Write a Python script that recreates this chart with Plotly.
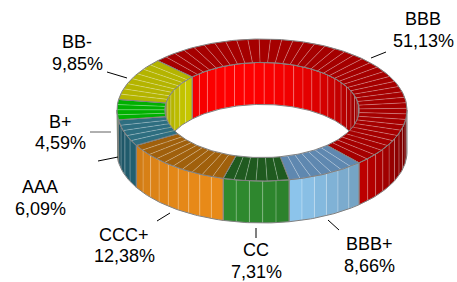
import numpy as np
import plotly.graph_objects as go

# ---------------- data ----------------
categories = ['BBB', 'BBB+', 'CC', 'CCC+', 'AAA', 'B+', 'BB-']
shares = [51.13, 8.66, 7.31, 12.38, 6.09, 4.59, 9.85]

# ---------------- style ----------------
top_colors = ['#A50000', '#5F88B0', '#1F5A1F', '#A0600C', '#2E6E80', '#00B000', '#B4B400']
side_colors = ['#FF0000', '#98D4FF', '#2F8A2F', '#E88A18', '#266C80', '#00C000', '#D8D800']
inner_colors = ['#FF0000', '#98D4FF', '#2F8A2F', '#E88A18', '#266C80', '#00C800', '#D6D600']

# label placement (centre x, name y, percent y) and leader lines
label_pos = {
    'BBB': (423, 18.5, 40.5),
    'BBB+': (369, 243.5, 265.5),
    'CC': (256, 250, 271.5),
    'CCC+': (124, 234.5, 256),
    'AAA': (40, 186.5, 208.5),
    'B+': (60, 122, 143),
    'BB-': (77, 42, 63.5),
}
leaders = {
    'BBB': (371, 58, 386, 52),
    'BBB+': (328, 220, 339, 230),
    'CC': (256, 228, 256, 238),
    'CCC+': (157, 221, 170, 213),
    'AAA': (98, 161, 118, 157),
    'B+': (90, 132, 111, 132),
    'BB-': (107, 72, 127, 78),
}

W, H = 457, 282
CX, CY = 262, 110
RX, RY = 145, 71
HOLE = 0.67
DEPTH = 42
START = 136.0
OUTLINE = '#808080'
STRIPE = 'rgba(255,255,255,0.28)'


def shade(hexc, f):
    h = hexc.lstrip('#')
    r, g, b = (int(h[i:i + 2], 16) for i in (0, 2, 4))
    f = max(0.0, f)
    return 'rgb(%d,%d,%d)' % tuple(min(255, int(round(c * f))) for c in (r, g, b))


def outer_f(theta):
    f = 0.49 + 0.425 * np.cos(np.radians(theta + 110))
    return f / 0.915


def inner_f(theta):
    n = theta - 180
    return 0.6 + 0.4 * np.cos(np.radians(n + 75))


def arc(a, b, k=1.0, dy=0.0):
    n = max(2, int(abs(b - a)) + 2)
    t = np.radians(np.linspace(a, b, n))
    return list(CX + k * RX * np.cos(t)), list(CY - k * RY * np.sin(t) + dy)


fig = go.Figure()


def poly(xs, ys, fill, lc, lw):
    fig.add_trace(go.Scatter(
        x=xs + [xs[0]], y=ys + [ys[0]], fill='toself', fillcolor=fill,
        mode='lines', line=dict(color=lc, width=lw),
        hoverinfo='skip', showlegend=False))


def outline(xs, ys):
    fig.add_trace(go.Scatter(
        x=xs, y=ys, mode='lines', line=dict(color=OUTLINE, width=1),
        hoverinfo='skip', showlegend=False))


# slice angles (clockwise from START)
total = sum(shares)
bounds = []
a = START
for v in shares:
    b = a - 360.0 * v / total
    bounds.append((a, b))
    a = b


def clip(a, b, lo, hi):
    out = []
    for sh in (-360, 0, 360):
        hi2 = min(a + sh, hi)
        lo2 = max(b + sh, lo)
        if hi2 - lo2 > 1e-6:
            out.append((hi2, lo2))
    return out


def split(a, b, step):
    n = max(1, int(round(abs(a - b) / step)))
    e = np.linspace(a, b, n + 1)
    return list(zip(e[:-1], e[1:]))


# 1) visible inner walls (far half)
for i, (a, b) in enumerate(bounds):
    for (p, q) in clip(a, b, 0, 180):
        for (s, t) in split(p, q, 6):
            x1, y1 = arc(s, t, HOLE)
            x2, y2 = arc(t, s, HOLE, DEPTH)
            poly(x1 + x2, y1 + y2, shade(inner_colors[i], inner_f((s + t) / 2)), STRIPE, 0.7)
        x1, y1 = arc(p, q, HOLE)
        x2, y2 = arc(q, p, HOLE, DEPTH)
        outline(x1 + x2 + [x1[0]], y1 + y2 + [y1[0]])

# 2) visible outer walls (near half)
for i, (a, b) in enumerate(bounds):
    for (p, q) in clip(a, b, -180, 0):
        for (s, t) in split(p, q, 5):
            x1, y1 = arc(s, t)
            x2, y2 = arc(t, s, 1.0, DEPTH)
            poly(x1 + x2, y1 + y2, shade(side_colors[i], outer_f((s + t) / 2)), STRIPE, 0.7)
        x1, y1 = arc(p, q)
        x2, y2 = arc(q, p, 1.0, DEPTH)
        outline(x1 + x2 + [x1[0]], y1 + y2 + [y1[0]])

# 3) top faces
for i, (a, b) in enumerate(bounds):
    for (s, t) in split(a, b, 4.5):
        x1, y1 = arc(s, t)
        x2, y2 = arc(t, s, HOLE)
        poly(x1 + x2, y1 + y2, top_colors[i], STRIPE, 0.7)
    x1, y1 = arc(a, b)
    x2, y2 = arc(b, a, HOLE)
    outline(x1 + x2 + [x1[0]], y1 + y2 + [y1[0]])

# labels
FONT = dict(family='Liberation Sans, Arial, sans-serif', size=18, color='#000000')
for cat, v in zip(categories, shares):
    x, yn, yp = label_pos[cat]
    fig.add_annotation(x=x, y=yn, text=cat, showarrow=False, font=FONT,
                       xanchor='center', yanchor='middle')
    fig.add_annotation(x=x, y=yp, text=('%.2f' % v).replace('.', ',') + '%',
                       showarrow=False, font=FONT, xanchor='center', yanchor='middle')
    x0, y0, x1, y1 = leaders[cat]
    fig.add_shape(type='line', x0=x0, y0=y0, x1=x1, y1=y1,
                  line=dict(color='#000000' if cat != 'B+' else '#606060', width=1))

fig.update_layout(
    width=W, height=H,
    margin=dict(l=0, r=0, t=0, b=0),
    paper_bgcolor='white', plot_bgcolor='white',
    xaxis=dict(range=[0, W], visible=False, fixedrange=True),
    yaxis=dict(range=[H, 0], visible=False, fixedrange=True),
    showlegend=False,
)

fig.write_html('out.html', config={'displayModeBar': False},
               post_script="document.body.style.margin='0px';document.body.style.overflow='hidden';")
